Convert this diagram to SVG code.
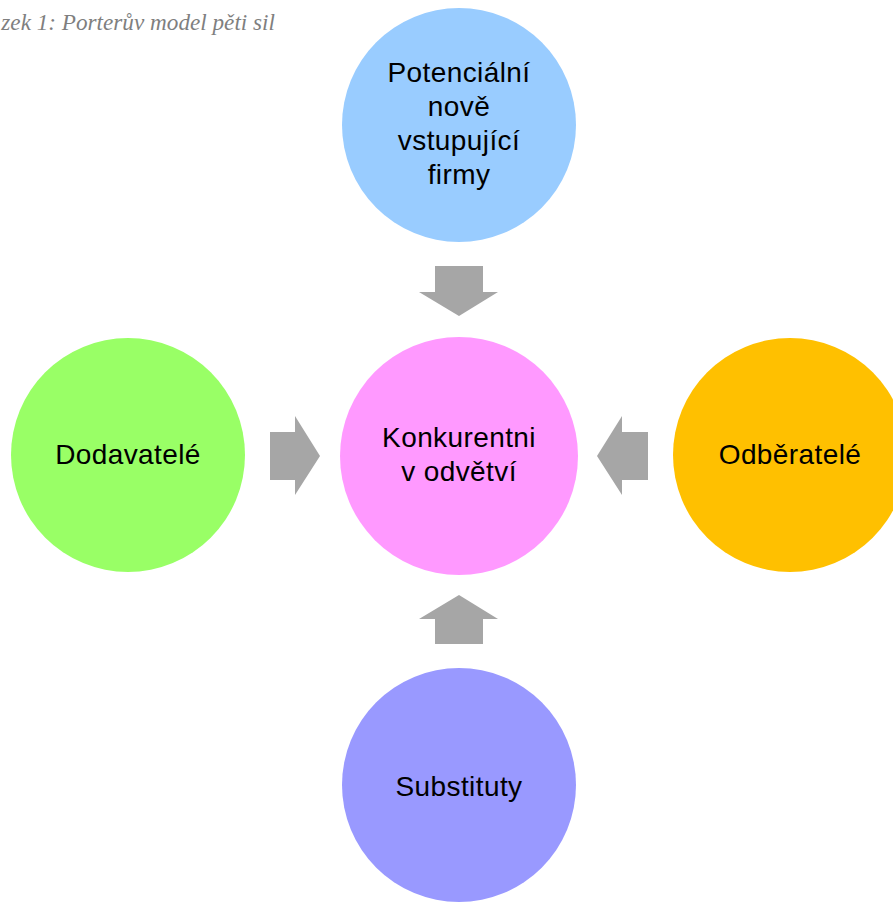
<svg xmlns="http://www.w3.org/2000/svg" width="893" height="902" viewBox="0 0 893 902">
<style>
.lbl{font-family:"Liberation Sans",Arial,sans-serif;font-size:28px;letter-spacing:0.4px;fill:#000;text-anchor:middle}
.arr{fill:#a6a6a6}
.cap{font-family:"Liberation Serif","Times New Roman",serif;font-style:italic;font-size:23.2px;fill:#7f7f7f}
</style>
<rect width="893" height="902" fill="#fff"/>
<text class="cap" x="275" y="30" text-anchor="end">zek 1: Porterův model pěti sil</text>
<g id="connectors">
<polygon class="arr" points="435,266 483,266 483,292 498,292 459,316 419,292 435,292"/>
<polygon class="arr" points="270,432 295,432 295,416 320,456 295,495 295,480 270,480"/>
<polygon class="arr" points="648,432 622,432 622,416 597,456 622,495 622,480 648,480"/>
<polygon class="arr" points="435,644 483,644 483,619 498,619 459,595 419,619 435,619"/>
</g>
<g id="node-top">
<circle cx="459" cy="125" r="117" fill="#99ccff"/>
<text class="lbl" x="459" y="82">Potenciální</text>
<text class="lbl" x="459" y="116">nově</text>
<text class="lbl" x="459" y="150">vstupující</text>
<text class="lbl" x="459" y="184">firmy</text>
</g>
<g id="node-center">
<circle cx="459" cy="456" r="119" fill="#ff99ff"/>
<text class="lbl" x="459" y="447">Konkurentni</text>
<text class="lbl" x="459" y="481">v odvětví</text>
</g>
<g id="node-left">
<circle cx="128" cy="455" r="117" fill="#99ff66"/>
<text class="lbl" x="128" y="464">Dodavatelé</text>
</g>
<g id="node-right">
<circle cx="790" cy="455" r="117" fill="#ffc000"/>
<text class="lbl" x="790" y="464">Odběratelé</text>
</g>
<g id="node-bottom">
<circle cx="459" cy="785" r="117" fill="#9999ff"/>
<text class="lbl" x="459" y="796">Substituty</text>
</g>
</svg>
